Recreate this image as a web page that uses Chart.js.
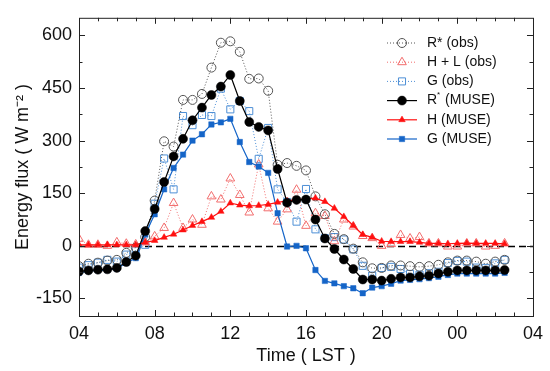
<!DOCTYPE html>
<html>
<head>
<meta charset="utf-8">
<script src="https://cdn.jsdelivr.net/npm/chart.js@4.4.0/dist/chart.umd.min.js"></script>
<style>
  html, body { margin: 0; padding: 0; background: #fff; }
</style>
</head>
<body>
<canvas id="fluxChart" width="550" height="371"></canvas>
<script>
// half-hourly samples, 04:00 to 02:30 next day (hours since midnight)
const times = [4, 4.5, 5, 5.5, 6, 6.5, 7, 7.5, 8, 8.5, 9, 9.5, 10, 10.5, 11, 11.5,
  12, 12.5, 13, 13.5, 14, 14.5, 15, 15.5, 16, 16.5, 17, 17.5, 18, 18.5, 19, 19.5,
  20, 20.5, 21, 21.5, 22, 22.5, 23, 23.5, 24, 24.5, 25, 25.5, 26, 26.5];

const rObs = [-58, -51, -48, -42, -40, -20, -5, 25, 129, 298, 283, 416, 416, 433, 508, 579,
  583, 553, 476, 477, 442, 231, 236, 228, 215, 141, 90, 34, 19, -8, -47, -64,
  -63, -56, -56, -58, -60, -58, -54, -47, -42, -42, -45, -51, -45, -40];
const hlObs = [20, 3, 3, 0, 10, 6, 4, 10, 27, 51, 122, 51, 75, 60, 141, 132,
  192, 145, 95, 232, 107, 69, 104, 160, 57, 93, 85, 13, 75, 55, 28, 22,
  0, 5, 31, 21, 25, 7, 7, -2, -2, 7, 7, -2, 0, 7];
const gObs = [-62, -55, -48, -40, -45, -25, -13, 3, 120, 249, 161, 370, 344, 373, 370, 448,
  389, 413, 384, 248, 336, 161, 125, 69, 162, 47, 22, 25, 18, -10, -57, -85,
  -63, -60, -66, -80, -82, -78, -74, -49, -43, -45, -62, -63, -50, -40];
const rMuse = [-73, -70, -68, -67, -63, -46, -28, 42, 105, 182, 255, 305, 358, 394, 430, 454,
  487, 413, 353, 339, 329, 219, 123, 131, 132, 75, 21, -9, -39, -66, -96, -96,
  -99, -94, -90, -90, -87, -85, -79, -74, -70, -70, -70, -70, -70, -69];
const hMuse = [3, 3, 3, 3, 3, 3, 3, 10, 15, 24, 33, 45, 58, 69, 81, 98,
  122, 116, 114, 115, 118, 124, 128, 131, 134, 136, 126, 107, 83, 58, 32, 24,
  13, 12, 12, 12, 10, 7, 7, 6, 7, 8, 7, 7, 7, 6];
const gMuse = [-77, -72, -70, -69, -65, -49, -35, 32, 90, 161, 222, 260, 300, 318, 346, 352,
  362, 296, 239, 226, 208, 93, -2, 0, -7, -69, -100, -107, -115, -121, -135, -119,
  -115, -108, -99, -97, -95, -92, -88, -83, -79, -79, -79, -79, -79, -77];

const seriesNames = ['R* (obs)', 'H + L (obs)', 'G (obs)', 'R^* (MUSE)', 'H (MUSE)', 'G (MUSE)'];
const xTicks = [4, 8, 12, 16, 20, 24, 28];
const yTicks = [-150, 0, 150, 300, 450, 600];

const FONT = "'Liberation Sans', Arial, sans-serif";

function pts(vals) {
  return vals.map((v, i) => ({ x: times[i], y: v }));
}

function obsSet(label, vals, color, shape, r) {
  return {
    label, data: pts(vals), order: 2,
    borderColor: color, borderWidth: 1, borderDash: [1, 2],
    pointStyle: shape, pointRadius: r, pointBorderWidth: 1,
    pointBorderColor: color, pointBackgroundColor: 'rgba(255,255,255,0)'
  };
}
function museSet(label, vals, color, shape, r) {
  return {
    label, data: pts(vals), order: 1,
    borderColor: color, borderWidth: 1.2,
    pointStyle: shape, pointRadius: r, pointBorderWidth: 0.5,
    pointBorderColor: color, pointBackgroundColor: color
  };
}

// marker for the legend
function marker(ctx, shape, x, y, r) {
  ctx.beginPath();
  if (shape === 'circle') {
    ctx.arc(x, y, r, 0, Math.PI * 2);
  } else if (shape === 'triangle') {
    ctx.moveTo(x, y - r);
    ctx.lineTo(x + r * 0.866, y + r * 0.5);
    ctx.lineTo(x - r * 0.866, y + r * 0.5);
    ctx.closePath();
  } else {
    const s = r * Math.SQRT1_2;
    ctx.rect(x - s, y - s, 2 * s, 2 * s);
  }
  ctx.fill();
  ctx.stroke();
}

// box, inward ticks and zero line
const framePlugin = {
  id: 'frame',
  beforeDatasetsDraw(chart) {
    const { ctx, chartArea: a, scales: { x, y } } = chart;
    ctx.save();
    ctx.strokeStyle = '#000';
    ctx.lineWidth = 1.5;
    ctx.setLineDash([7, 4]);
    const y0 = Math.round(y.getPixelForValue(0)) + 0.5;
    ctx.beginPath();
    ctx.moveTo(a.left, y0);
    ctx.lineTo(a.right, y0);
    ctx.stroke();
    ctx.restore();
  },
  afterDraw(chart) {
    const { ctx, chartArea: a, scales: { x, y } } = chart;
    ctx.save();
    ctx.strokeStyle = '#222';
    ctx.lineWidth = 1;
    ctx.strokeRect(a.left + 0.5, a.top + 0.5, a.right - a.left, a.bottom - a.top);
    ctx.beginPath();
    for (let h = 5; h < 28; h++) {
      const px = Math.round(x.getPixelForValue(h)) + 0.5;
      const len = (h % 4 === 0) ? 6 : 3.5;
      ctx.moveTo(px, a.bottom); ctx.lineTo(px, a.bottom - len);
      ctx.moveTo(px, a.top); ctx.lineTo(px, a.top + len);
    }
    for (let v = -150; v <= 600; v += 75) {
      const py = Math.round(y.getPixelForValue(v)) + 0.5;
      const len = (v % 150 === 0) ? 6 : 3.5;
      ctx.moveTo(a.left, py); ctx.lineTo(a.left + len, py);
      ctx.moveTo(a.right, py); ctx.lineTo(a.right - len, py);
    }
    ctx.stroke();
    ctx.restore();
  }
};

// legend: line sample with marker in the middle
const legendPlugin = {
  id: 'sampleLegend',
  afterDatasetsDraw(chart) {
    const ctx = chart.ctx;
    ctx.save();
    chart.data.datasets.forEach((ds, i) => {
      const yy = 43 + i * 19.2;
      const x1 = 387, x2 = 417;
      ctx.strokeStyle = ds.borderColor;
      ctx.lineWidth = ds.borderWidth;
      ctx.setLineDash(ds.borderDash || []);
      ctx.beginPath();
      ctx.moveTo(x1, yy); ctx.lineTo(x2, yy);
      ctx.stroke();
      ctx.setLineDash([]);
      ctx.lineWidth = ds.pointBorderWidth;
      ctx.strokeStyle = ds.pointBorderColor;
      ctx.fillStyle = ds.pointBackgroundColor;
      marker(ctx, ds.pointStyle, (x1 + x2) / 2, yy, ds.pointRadius);

      ctx.fillStyle = '#111';
      ctx.textBaseline = 'middle';
      ctx.font = '14px ' + FONT;
      const parts = ds.label.split('^');
      let tx = 427;
      ctx.fillText(parts[0], tx, yy);
      if (parts.length > 1) {
        tx += ctx.measureText(parts[0]).width;
        ctx.font = '8px ' + FONT;
        ctx.fillText(parts[1][0], tx, yy - 6);
        tx += ctx.measureText(parts[1][0]).width + 1;
        ctx.font = '14px ' + FONT;
        ctx.fillText(parts[1].slice(1), tx, yy);
      }
    });
    ctx.restore();
  }
};

new Chart(document.getElementById('fluxChart'), {
  type: 'line',
  data: {
    datasets: [
      obsSet(seriesNames[0], rObs, '#555555', 'circle', 4.5),
      obsSet(seriesNames[1], hlObs, '#f26d6d', 'triangle', 5),
      obsSet(seriesNames[2], gObs, '#4d8fd6', 'rect', 5),
      museSet(seriesNames[3], rMuse, '#000000', 'circle', 4.5),
      museSet(seriesNames[4], hMuse, '#ff1010', 'triangle', 3.8),
      museSet(seriesNames[5], gMuse, '#1565c8', 'rect', 3.8)
    ]
  },
  options: {
    responsive: false,
    animation: false,
    layout: { padding: { left: 0, right: 14, top: 4, bottom: 0 } },
    plugins: { legend: { display: false }, tooltip: { enabled: false } },
    scales: {
      x: {
        type: 'linear', min: 4, max: 28,
        grid: { display: false, drawTicks: false },
        border: { display: false },
        afterBuildTicks: s => { s.ticks = xTicks.map(v => ({ value: v })); },
        afterFit: s => { s.height = 55; },
        ticks: {
          padding: 7, color: '#111', maxRotation: 0, autoSkip: false,
          font: { size: 18, family: FONT },
          callback: v => String(v % 24).padStart(2, '0')
        },
        title: {
          display: true, text: 'Time ( LST )', color: '#111',
          font: { size: 18, family: FONT }, padding: { top: 0, bottom: 4 }
        }
      },
      y: {
        min: -200, max: 650,
        grid: { display: false, drawTicks: false },
        border: { display: false },
        afterBuildTicks: s => { s.ticks = yTicks.map(v => ({ value: v })); },
        afterFit: s => { s.width = 79; },
        ticks: {
          padding: 7, color: '#111',
          font: { size: 18, family: FONT }
        },
        title: {
          display: true, text: 'Energy flux ( W m\u207B\u00B2 )', color: '#111',
          font: { size: 18, family: FONT }, padding: { top: 12, bottom: 0 }
        }
      }
    }
  },
  plugins: [framePlugin, legendPlugin]
});
</script>
</body>
</html>
